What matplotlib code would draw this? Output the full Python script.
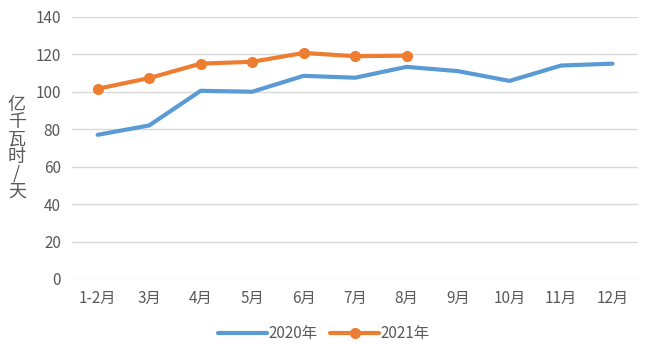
import matplotlib
matplotlib.use("Agg")
import matplotlib.pyplot as plt

plt.rcParams['font.family'] = ['Noto Sans CJK SC', 'DejaVu Sans']

months = ['1-2月', '3月', '4月', '5月', '6月', '7月', '8月', '9月', '10月', '11月', '12月']
y2020 = [77, 82, 100.5, 100, 108.5, 107.5, 113.3, 111, 105.8, 114, 115]
y2021 = [101.6, 107.3, 115, 116, 120.7, 119, 119.3]

blue = '#5B9BD5'
orange = '#ED7D31'
grey = '#595959'

fig = plt.figure(figsize=(6.48, 3.44), dpi=100)
ax = fig.add_axes([0.111, 0.189, 0.874, 0.762])

x = list(range(len(months)))
ax.plot(x, y2020, color=blue, lw=3, label='2020年', solid_capstyle='round')
ax.plot(x[:len(y2021)], y2021, color=orange, lw=3, marker='o', markersize=7,
        label='2021年', solid_capstyle='round')

ax.set_xlim(-0.5, len(months) - 0.5)
ax.set_ylim(0, 140)
ax.set_yticks(range(0, 141, 20))
ax.set_xticks(x)
ax.set_xticklabels(months)
ax.grid(axis='y', color='#D9D9D9', lw=1)
ax.set_axisbelow(True)
for s in ax.spines.values():
    s.set_visible(False)
ax.tick_params(length=0, colors=grey, labelsize=11, pad=8)

# vertical unit label, one character per line
fig.text(0.026, 0.57, '\n'.join('亿千瓦时/天'), color=grey, fontsize=13,
         ha='center', va='center', linespacing=0.95)

fig.legend(loc='lower center', bbox_to_anchor=(0.5, -0.035), ncol=2, frameon=False,
           fontsize=11, labelcolor=grey, handlelength=3.2, handletextpad=0.1,
           columnspacing=0.8)

fig.savefig('out.png', dpi=100)
